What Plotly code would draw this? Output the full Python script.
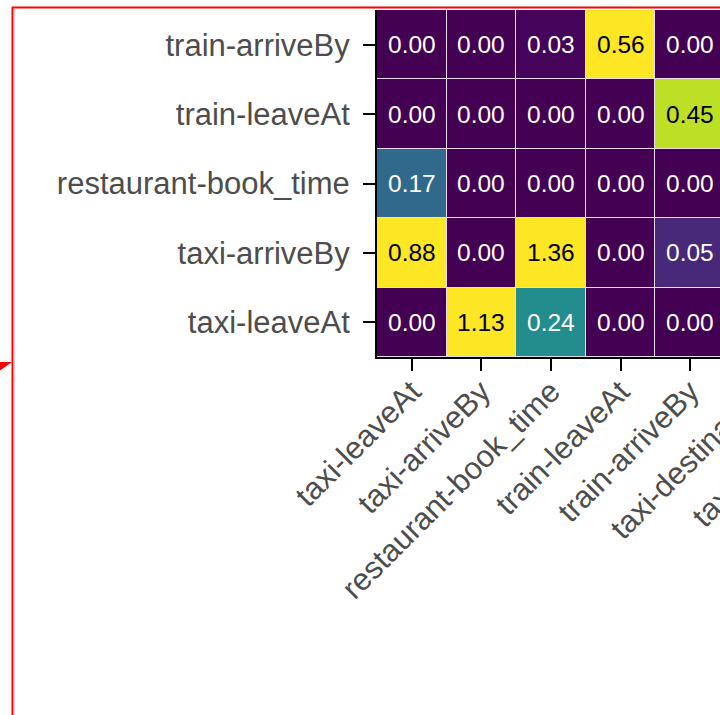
import plotly.graph_objects as go

# ---- data ----
x_labels = ["taxi-leaveAt", "taxi-arriveBy", "restaurant-book_time",
            "train-leaveAt", "train-arriveBy", "taxi-destination", "taxi-departure"]
y_labels = ["taxi-leaveAt", "taxi-arriveBy", "restaurant-book_time",
            "train-leaveAt", "train-arriveBy"]
# rows follow y_labels (bottom -> top); last two columns lie outside the visible crop
row_taxi_leaveAt = [0.00, 1.13, 0.24, 0.00, 0.00, None, None]
row_taxi_arriveBy = [0.88, 0.00, 1.36, 0.00, 0.05, None, None]
row_restaurant_book_time = [0.17, 0.00, 0.00, 0.00, 0.00, None, None]
row_train_leaveAt = [0.00, 0.00, 0.00, 0.00, 0.45, None, None]
row_train_arriveBy = [0.00, 0.00, 0.03, 0.56, 0.00, None, None]
z = [row_taxi_leaveAt, row_taxi_arriveBy, row_restaurant_book_time,
     row_train_leaveAt, row_train_arriveBy]

# ---- geometry ----
W, H = 880, 715
L, R, T, B = 377, 16, 10, 358
PW, PH = W - L - R, H - T - B

def px_x(px):
    return (px - L) / PW

def px_y(py):
    return 1 - (py - T) / PH

FONT = "Liberation Sans, Arial, sans-serif"
TICK_COLOR = "#4d4d4d"

colorscale = [
    [0.00, "#440154"], [0.06, "#45035a"], [0.10, "#482878"],
    [0.20, "#414487"], [0.30, "#355f8d"], [0.40, "#2a788e"],
    [0.50, "#21918c"], [0.60, "#22a884"], [0.70, "#44bf70"],
    [0.80, "#7ad151"], [0.90, "#bddf26"], [1.00, "#fde725"],
]

fig = go.Figure(go.Heatmap(
    z=z, x=x_labels, y=y_labels,
    colorscale=colorscale, zmin=0, zmax=0.5,
    showscale=False, xgap=1, ygap=1, hoverongaps=False,
))

annotations = []
for yi, row in enumerate(z):
    for xi, v in enumerate(row):
        if v is None:
            continue
        annotations.append(dict(
            x=x_labels[xi], y=y_labels[yi], xref="x", yref="y",
            text=f"{v:.2f}", showarrow=False,
            font=dict(family=FONT, size=24.5, color="black" if v >= 0.3 else "white"),
        ))

shapes = [
    # red highlight box (extends beyond the crop)
    dict(type="line", xref="paper", yref="paper",
         x0=px_x(12), x1=px_x(900), y0=px_y(7.5), y1=px_y(7.5),
         line=dict(color="#ff0000", width=2)),
    dict(type="line", xref="paper", yref="paper",
         x0=px_x(12.5), x1=px_x(12.5), y0=px_y(7), y1=px_y(760),
         line=dict(color="#ff0000", width=2)),
    dict(type="line", xref="paper", yref="paper",
         x0=px_x(14.5), x1=px_x(14.5), y0=px_y(9), y1=px_y(760),
         line=dict(color="#cfcfcf", width=1.5)),
    dict(type="path", xref="paper", yref="paper",
         path=f"M {px_x(-2)},{px_y(362)} L {px_x(12)},{px_y(362)} L {px_x(-2)},{px_y(372)} Z",
         fillcolor="#ff0000", line=dict(width=0)),
]

fig.update_layout(
    width=W, height=H, autosize=False,
    margin=dict(l=L, r=R, t=T, b=B, pad=0),
    paper_bgcolor="white", plot_bgcolor="#e8dcea",
    annotations=annotations, shapes=shapes,
    font=dict(family=FONT),
)
fig.update_xaxes(
    type="category", range=[-0.5, 6.5], tickangle=-45,
    showline=True, linecolor="black", linewidth=2, mirror=False,
    ticks="outside", ticklen=12, tickwidth=2, tickcolor="black",
    tickfont=dict(family=FONT, size=31, color=TICK_COLOR),
    ticklabelstandoff=-10,
    showgrid=False, zeroline=False, fixedrange=True,
)
fig.update_yaxes(
    type="category", range=[-0.5, 4.5],
    showline=True, linecolor="black", linewidth=2, mirror=False,
    ticks="outside", ticklen=12, tickwidth=2, tickcolor="black",
    tickfont=dict(family=FONT, size=31, color=TICK_COLOR),
    ticklabelstandoff=7,
    showgrid=False, zeroline=False, fixedrange=True,
)

fig.write_html("out.html", config={"displayModeBar": False})
